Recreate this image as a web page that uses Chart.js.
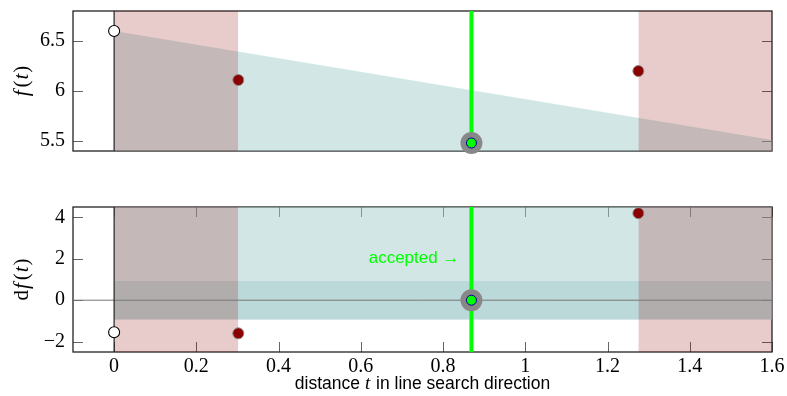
<!DOCTYPE html>
<html>
<head>
<meta charset="utf-8">
<script src="https://cdn.jsdelivr.net/npm/chart.js@4"></script>
<style>
  html, body { margin: 0; padding: 0; background: #fff; }
  #wrap { position: relative; width: 787px; height: 396px; }
  #topChart { position: absolute; left: 0; top: 0; }
  #bottomChart { position: absolute; left: 0; top: 190px; }
</style>
</head>
<body>
<div id="wrap">
  <canvas id="topChart" width="787" height="170"></canvas>
  <canvas id="bottomChart" width="787" height="206"></canvas>
</div>
<script>
// step sizes tried by the line search
const tStart = 0;
const tRejected = [0.302, 1.275];
const tAccepted = 0.869;

// function values f(t)
const fStart = 6.6;
const fRejected = [6.11, 6.2];
const fAccepted = 5.48;
const fArmijo = [6.6, 5.51];      // sufficient decrease line at t = 0 and t = 1.6

// directional derivatives df(t)
const dfStart = -1.55;
const dfRejected = [-1.6, 4.2];
const dfAccepted = 0;
const dfCurvature = 0.93;         // |df| bound of the curvature condition

// axis ranges and ticks
const tRange = [-0.1, 1.6];
const fRange = [5.4, 6.8];
const dfRange = [-2.5, 4.5];
const tTicks = [0, 0.2, 0.4, 0.6, 0.8, 1, 1.2, 1.4, 1.6];
const fTicks = [5.5, 6, 6.5];
const dfTicks = [-2, 0, 2, 4];

const RED_FILL = 'rgba(139,0,0,0.2)';
const TEAL_FILL = 'rgba(163,203,203,0.48)';
const SERIF = '"Liberation Serif", "DejaVu Serif", serif';
const SANS = '"Liberation Sans", Arial, sans-serif';

Chart.defaults.font.family = SERIF;
Chart.defaults.color = '#000';

// draw a row of text pieces with their own fonts, centred on x
function drawRuns(ctx, runs, x, y) {
    let total = 0;
    runs.forEach(r => { ctx.font = r.font; total += ctx.measureText(r.text).width + (r.gap || 0); });
    let cx = x - total / 2;
    ctx.textAlign = 'left';
    ctx.textBaseline = 'middle';
    runs.forEach(r => {
        ctx.font = r.font;
        ctx.fillText(r.text, cx, y);
        cx += ctx.measureText(r.text).width + (r.gap || 0);
    });
}

// axis frame with inward ticks on all sides, plus axis titles
const framePlugin = {
    id: 'frame',
    beforeDatasetsDraw(chart, args, opts) {
        const {ctx, chartArea: a, scales} = chart;
        const len = 10;
        ctx.save();
        ctx.strokeStyle = '#666';
        ctx.lineWidth = 1;
        ctx.beginPath();
        opts.yTicks.forEach(v => {
            const y = Math.round(scales.y.getPixelForValue(v)) + 0.5;
            ctx.moveTo(a.left, y); ctx.lineTo(a.left + len, y);
            ctx.moveTo(a.right - len, y); ctx.lineTo(a.right, y);
        });
        (opts.xTicks || []).forEach(v => {
            const x = Math.round(scales.x.getPixelForValue(v)) + 0.5;
            ctx.moveTo(x, a.top); ctx.lineTo(x, a.top + len);
            ctx.moveTo(x, a.bottom - len); ctx.lineTo(x, a.bottom);
        });
        ctx.stroke();
        ctx.strokeStyle = '#222';
        ctx.lineWidth = 1.3;
        ctx.strokeRect(a.left, a.top, a.width, a.height);
        ctx.restore();
    },
    afterDraw(chart, args, opts) {
        const {ctx, chartArea: a, scales} = chart;
        ctx.save();
        ctx.fillStyle = '#000';
        ctx.translate(22, (a.top + a.bottom) / 2);
        ctx.rotate(-Math.PI / 2);
        drawRuns(ctx, opts.yTitle, 0, 0);
        ctx.restore();
        if (opts.xTitle) {
            ctx.save();
            ctx.fillStyle = '#000';
            drawRuns(ctx, opts.xTitle, (a.left + a.right) / 2, chart.height - 12);
            ctx.restore();
        }
        if (opts.note) {
            ctx.save();
            ctx.fillStyle = '#00ff00';
            ctx.font = '17px ' + SANS;
            ctx.textAlign = 'right';
            ctx.textBaseline = 'middle';
            ctx.fillText(opts.note, scales.x.getPixelForValue(tAccepted) - 12, scales.y.getPixelForValue(2));
            ctx.restore();
        }
    }
};

function regionFill(x0, x1, yTop, fill) {
    return {
        type: 'line',
        data: [{x: x0, y: yTop}, {x: x1, y: yTop}],
        fill: fill,
        backgroundColor: RED_FILL,
        borderWidth: 0,
        pointRadius: 0,
        order: 5
    };
}

function vLine(x, range, color, width, order) {
    return {
        type: 'line',
        data: [{x: x, y: range[0]}, {x: x, y: range[1]}],
        borderColor: color,
        borderWidth: width,
        pointRadius: 0,
        fill: false,
        order: order
    };
}

function markers(start, rejected, accepted) {
    return [
        {
            data: [{x: tAccepted, y: accepted}],
            backgroundColor: '#00ff00', borderColor: '#00008b', borderWidth: 1,
            pointRadius: 5, clip: false, order: 0
        },
        {
            data: [{x: tStart, y: start}],
            backgroundColor: '#fff', borderColor: '#000', borderWidth: 1.1,
            pointRadius: 5.5, clip: false, order: 0
        },
        {
            data: tRejected.map((t, i) => ({x: t, y: rejected[i]})),
            backgroundColor: '#8b0000', borderColor: '#888', borderWidth: 1,
            pointRadius: 5.5, clip: false, order: 0
        },
        {
            data: [{x: tAccepted, y: accepted}],
            backgroundColor: '#888', borderWidth: 0,
            pointRadius: 11, clip: false, order: 1
        }
    ];
}

function yScale(range, ticks) {
    return {
        min: range[0], max: range[1],
        grid: {display: false, drawTicks: false},
        border: {display: false},
        afterBuildTicks: s => { s.ticks = ticks.map(v => ({value: v})); },
        afterFit: s => { s.width = 73; s.paddingTop = 0; s.paddingBottom = 0; },
        ticks: {
            padding: 8,
            font: {size: 20},
            callback: v => String(v).replace('-', '\u2212')
        }
    };
}

const commonOpts = {
    responsive: false,
    animation: false,
    events: [],
    plugins: {legend: {display: false}, tooltip: {enabled: false}}
};

const titleFont = size => size + 'px ' + SERIF;

new Chart(document.getElementById('topChart'), {
    type: 'scatter',
    plugins: [framePlugin],
    data: {
        datasets: [
            ...markers(fStart, fRejected, fAccepted),
            vLine(tAccepted, fRange, '#00ff00', 4, 2),
            vLine(0, fRange, '#222', 1.2, 3),
            {
                type: 'line',
                data: [{x: 0, y: fArmijo[0]}, {x: tRange[1], y: fArmijo[1]}],
                fill: 'start',
                backgroundColor: TEAL_FILL,
                borderWidth: 0,
                pointRadius: 0,
                order: 6
            },
            regionFill(0, tRejected[0], fRange[1], 'start'),
            regionFill(tRejected[1], tRange[1], fRange[1], 'start')
        ]
    },
    options: {
        ...commonOpts,
        layout: {padding: {top: 7, right: 15, bottom: 19, left: 0}},
        scales: {
            x: {type: 'linear', min: tRange[0], max: tRange[1], display: false},
            y: yScale(fRange, fTicks)
        },
        plugins: {
            ...commonOpts.plugins,
            frame: {
                yTicks: fTicks,
                yTitle: [
                    {text: 'f', font: 'italic ' + titleFont(21), gap: 3},
                    {text: '(', font: titleFont(21), gap: 1},
                    {text: 't', font: 'italic ' + titleFont(21), gap: 1},
                    {text: ')', font: titleFont(21)}
                ]
            }
        }
    }
});

new Chart(document.getElementById('bottomChart'), {
    type: 'scatter',
    plugins: [framePlugin],
    data: {
        datasets: [
            ...markers(dfStart, dfRejected, dfAccepted),
            vLine(tAccepted, dfRange, '#00ff00', 4, 2),
            vLine(0, dfRange, '#222', 1.2, 3),
            {
                type: 'line',
                data: [{x: tRange[0], y: 0}, {x: tRange[1], y: 0}],
                borderColor: '#777', borderWidth: 1, pointRadius: 0, fill: false, order: 4
            },
            {
                type: 'line',
                data: [{x: 0, y: dfRange[1]}, {x: tRange[1], y: dfRange[1]}],
                fill: {value: -dfCurvature},
                backgroundColor: TEAL_FILL, borderWidth: 0, pointRadius: 0, order: 6
            },
            {
                type: 'line',
                data: [{x: 0, y: dfCurvature}, {x: tRange[1], y: dfCurvature}],
                fill: {value: -dfCurvature},
                backgroundColor: TEAL_FILL, borderWidth: 0, pointRadius: 0, order: 6
            },
            regionFill(0, tRejected[0], dfRange[1], 'start'),
            regionFill(tRejected[1], tRange[1], dfRange[1], 'start')
        ]
    },
    options: {
        ...commonOpts,
        layout: {padding: {top: 17, right: 15, bottom: 0, left: 0}},
        scales: {
            x: {
                type: 'linear', min: tRange[0], max: tRange[1],
                grid: {display: false, drawTicks: false},
                border: {display: false},
                afterBuildTicks: s => { s.ticks = tTicks.map(v => ({value: v})); },
                afterFit: s => { s.height = 44; s.paddingLeft = 0; s.paddingRight = 0; },
                ticks: {padding: 3, font: {size: 20}, maxRotation: 0, callback: v => String(v)}
            },
            y: yScale(dfRange, dfTicks)
        },
        plugins: {
            ...commonOpts.plugins,
            frame: {
                yTicks: dfTicks,
                xTicks: tTicks,
                note: 'accepted \u2192',
                yTitle: [
                    {text: 'd', font: titleFont(21), gap: 1},
                    {text: 'f', font: 'italic ' + titleFont(21), gap: 3},
                    {text: '(', font: titleFont(21), gap: 1},
                    {text: 't', font: 'italic ' + titleFont(21), gap: 1},
                    {text: ')', font: titleFont(21)}
                ],
                xTitle: [
                    {text: 'distance ', font: '17.5px ' + SANS},
                    {text: 't', font: 'italic ' + titleFont(19), gap: 1},
                    {text: ' in line search direction', font: '17.5px ' + SANS}
                ]
            }
        }
    }
});
</script>
</body>
</html>
